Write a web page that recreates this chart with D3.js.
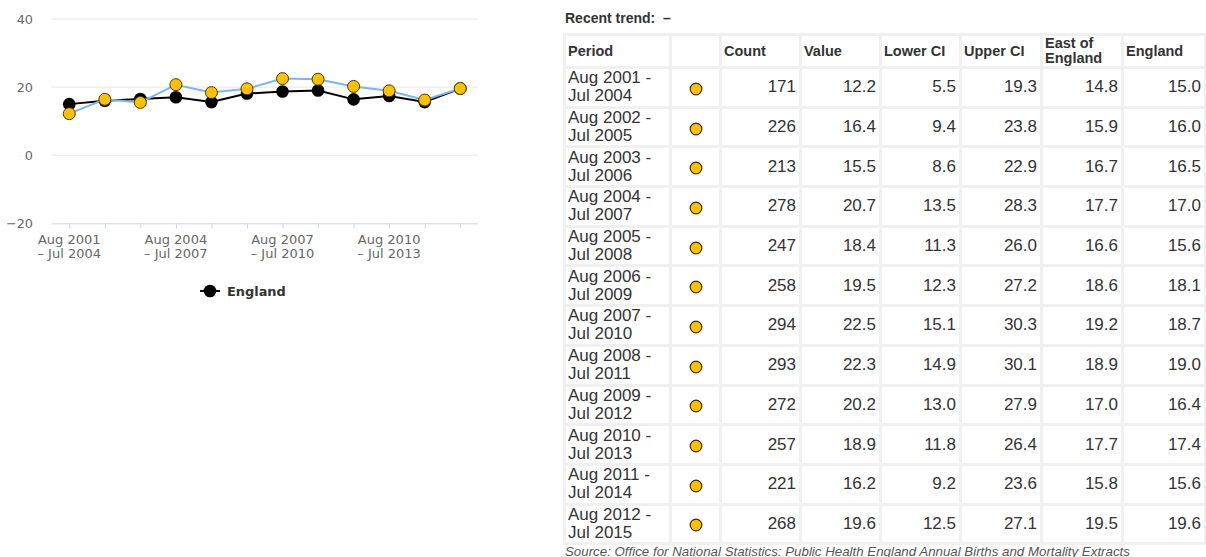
<!DOCTYPE html>
<html>
<meta charset="utf-8">
<head>
  <title>Recent trend</title>
  <script src="https://d3js.org/d3.v7.min.js"></script>
  <style>
body {
  margin: 0;
  background: #fff;
  width: 1206px;
  height: 557px;
  overflow: hidden;
  position: relative;
}
#chart {
  position: absolute;
  left: 0;
  top: 0;
}
#trend {
  position: absolute;
  left: 565px;
  top: 9px;
  font: bold 14px "Liberation Sans", Arial, sans-serif;
  color: #333;
  line-height: 18px;
}
#table {
  position: absolute;
  left: 563px;
  top: 33px;
}
table {
  border-collapse: collapse;
  table-layout: fixed;
  width: 641px;
  font-family: "Liberation Sans", Arial, sans-serif;
  color: #333;
}
td, th {
  border: 3px solid #f0f0f0;
  padding: 0 3px 0 2px;
  vertical-align: middle;
  overflow: hidden;
}
th {
  font-size: 14.5px;
  text-align: left;
  line-height: 15px;
  height: 29px;
}
td {
  font-size: 17px;
  line-height: 18px;
  height: 36.7px;
}
td.num { text-align: right; }
td.dot { text-align: center; padding: 0; }
#source {
  position: absolute;
  left: 565px;
  top: 544px;
  font: italic 13.3px "Liberation Sans", Arial, sans-serif;
  color: #555;
}
</style>
</head>
<body>
<div id="chart"></div>
<div id="trend">Recent trend:&nbsp; &ndash;</div>
<div id="table"></div>
<div id="source">Source: Office for National Statistics: Public Health England Annual Births and Mortality Extracts</div>
<script>
const periodStart = ["Aug 2001", "Aug 2002", "Aug 2003", "Aug 2004", "Aug 2005", "Aug 2006",
                     "Aug 2007", "Aug 2008", "Aug 2009", "Aug 2010", "Aug 2011", "Aug 2012"];
const periodEnd = ["Jul 2004", "Jul 2005", "Jul 2006", "Jul 2007", "Jul 2008", "Jul 2009",
                   "Jul 2010", "Jul 2011", "Jul 2012", "Jul 2013", "Jul 2014", "Jul 2015"];
const counts = [171, 226, 213, 278, 247, 258, 294, 293, 272, 257, 221, 268];
const values = [12.2, 16.4, 15.5, 20.7, 18.4, 19.5, 22.5, 22.3, 20.2, 18.9, 16.2, 19.6];
const lowerCI = [5.5, 9.4, 8.6, 13.5, 11.3, 12.3, 15.1, 14.9, 13.0, 11.8, 9.2, 12.5];
const upperCI = [19.3, 23.8, 22.9, 28.3, 26.0, 27.2, 30.3, 30.1, 27.9, 26.4, 23.6, 27.1];
const eastOfEngland = [14.8, 15.9, 16.7, 17.7, 16.6, 18.6, 19.2, 18.9, 17.0, 17.7, 15.8, 19.5];
const england = [15.0, 16.0, 16.5, 17.0, 15.6, 18.1, 18.7, 19.0, 16.4, 17.4, 15.6, 19.6];
const yTicks = [-20, 0, 20, 40];
const headers = ["Period", "", "Count", "Value", "Lower CI", "Upper CI", "East of England", "England"];
const colWidths = [106, 50, 80, 80, 80, 81, 81, 83];

const gold = '#ffc000';
const axisFont = '"DejaVu Sans", Verdana, sans-serif';

// ---- chart ----
const svg = d3.select('#chart').append('svg')
  .attr('width', 500)
  .attr('height', 310);

const x = d3.scalePoint()
  .domain(periodStart)
  .range([51.5, 478])
  .padding(0.5);

const y = d3.scaleLinear()
  .domain([-20, 40])
  .range([223.3, 19]);

// gridlines
svg.append('g').selectAll('line')
  .data(yTicks.filter(d => d > -20))
  .enter().append('line')
  .attr('x1', 51.5).attr('x2', 478)
  .attr('y1', d => y(d)).attr('y2', d => y(d))
  .attr('stroke', '#e6e6e6');

// y labels
svg.append('g').selectAll('text')
  .data(yTicks)
  .enter().append('text')
  .attr('x', 33)
  .attr('y', d => y(d))
  .attr('dy', '0.36em')
  .attr('text-anchor', 'end')
  .style('font', `12.8px ${axisFont}`)
  .attr('fill', '#666')
  .text(d => d < 0 ? '\u2212' + Math.abs(d) : d);

// x axis
const xAxis = svg.append('g')
  .attr('transform', `translate(0, ${y(-20)})`)
  .call(d3.axisBottom(x).tickSize(5).tickFormat(''));
xAxis.select('.domain').attr('d', 'M51.5,0.5H478').attr('stroke', '#ccd6eb');
xAxis.selectAll('.tick line').attr('stroke', '#ccd6eb');

const xl = svg.append('g').selectAll('text')
  .data(periodStart.filter((d, i) => i % 3 === 0))
  .enter().append('text')
  .attr('text-anchor', 'middle')
  .style('font', `13px ${axisFont}`)
  .attr('fill', '#666');
xl.append('tspan')
  .attr('x', d => x(d)).attr('y', 243.5)
  .text(d => d);
xl.append('tspan')
  .attr('x', d => x(d)).attr('y', 258)
  .text(d => '\u2013 ' + periodEnd[periodStart.indexOf(d)]);

const line = d3.line()
  .x((d, i) => x(periodStart[i]))
  .y(d => y(d));

// England series
svg.append('path')
  .datum(england)
  .attr('d', line)
  .attr('fill', 'none')
  .attr('stroke', '#000')
  .attr('stroke-width', 2);
svg.append('g').selectAll('circle')
  .data(england)
  .enter().append('circle')
  .attr('cx', (d, i) => x(periodStart[i]))
  .attr('cy', d => y(d))
  .attr('r', 6.3)
  .attr('fill', '#000');

// area value series
svg.append('path')
  .datum(values)
  .attr('d', line)
  .attr('fill', 'none')
  .attr('stroke', '#7cb5ec')
  .attr('stroke-width', 2);
svg.append('g').selectAll('circle')
  .data(values)
  .enter().append('circle')
  .attr('cx', (d, i) => x(periodStart[i]))
  .attr('cy', d => y(d))
  .attr('r', 6)
  .attr('fill', gold)
  .attr('stroke', '#4a3a00')
  .attr('stroke-width', 1);

// legend
const lg = svg.append('g').attr('transform', 'translate(200, 291)');
lg.append('line').attr('x1', 0).attr('x2', 20).attr('stroke', '#000').attr('stroke-width', 2);
lg.append('circle').attr('cx', 10).attr('r', 6.3).attr('fill', '#000');
lg.append('text')
  .attr('x', 27).attr('dy', '0.36em')
  .style('font', `bold 12.9px ${axisFont}`)
  .attr('fill', '#333')
  .text('England');

// ---- table ----
const table = d3.select('#table').append('table');
table.append('colgroup').selectAll('col')
  .data(colWidths).enter().append('col')
  .style('width', d => d + 'px');
table.append('thead').append('tr').selectAll('th')
  .data(headers).enter().append('th')
  .text(d => d);

const rows = table.append('tbody').selectAll('tr')
  .data(periodStart).enter().append('tr');
rows.append('td').html((d, i) => `${d} -<br>${periodEnd[i]}`);
rows.append('td').attr('class', 'dot')
  .append('svg').attr('width', 14).attr('height', 16)
  .style('vertical-align', 'middle')
  .append('circle')
  .attr('cx', 7).attr('cy', 9).attr('r', 5.8)
  .attr('fill', gold).attr('stroke', '#3a2e00').attr('stroke-width', 1.2);
const numCols = [counts.map(String), values.map(d => d.toFixed(1)), lowerCI.map(d => d.toFixed(1)),
                 upperCI.map(d => d.toFixed(1)), eastOfEngland.map(d => d.toFixed(1)), england.map(d => d.toFixed(1))];
numCols.forEach(col => {
  rows.append('td').attr('class', 'num').text((d, i) => col[i]);
});
</script>
</body>
</html>
